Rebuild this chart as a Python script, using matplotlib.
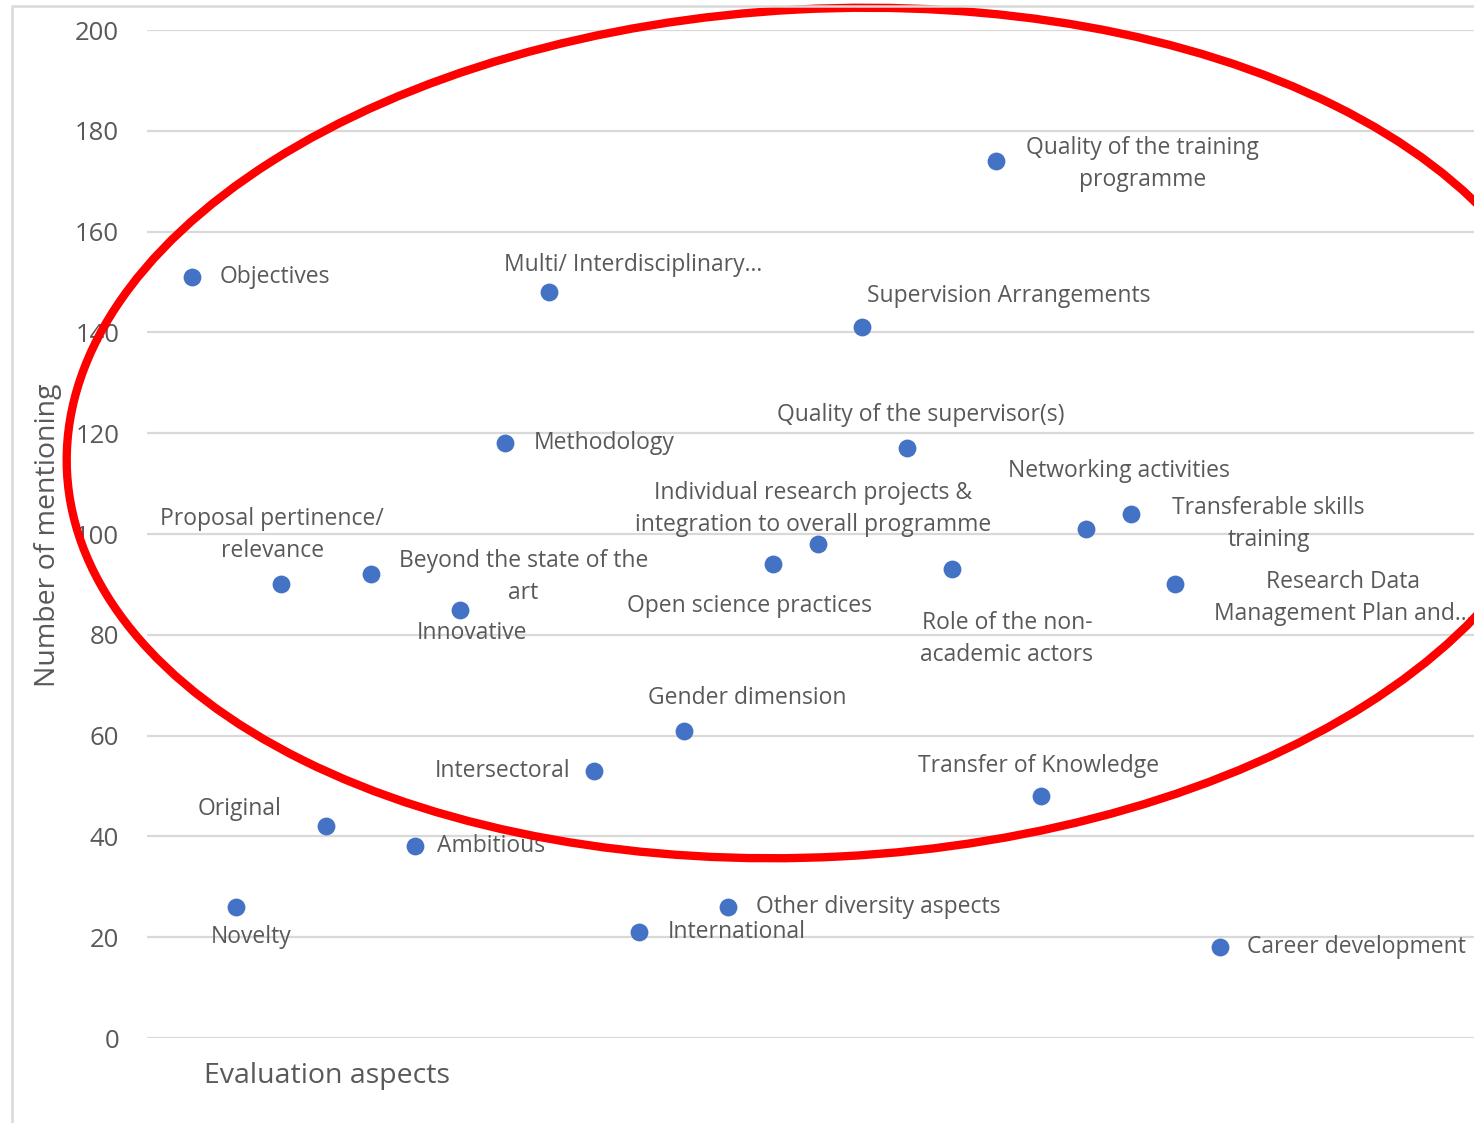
import matplotlib.pyplot as plt
from matplotlib.patches import Ellipse

plt.rcParams['font.family'] = ['Open Sans', 'DejaVu Sans']

aspects = ['Objectives', 'Novelty', 'Proposal pertinence/\nrelevance', 'Original',
           'Beyond the state of the\nart', 'Ambitious', 'Innovative', 'Methodology',
           'Multi/ Interdisciplinary...', 'Intersectoral', 'International',
           'Gender dimension', 'Other diversity aspects', 'Open science practices',
           'Individual research projects &\nintegration to overall programme',
           'Supervision Arrangements', 'Quality of the supervisor(s)',
           'Role of the non-\nacademic actors', 'Quality of the training\nprogramme',
           'Transfer of Knowledge', 'Networking activities',
           'Transferable skills\ntraining', 'Research Data\nManagement Plan and...',
           'Career development']
positions = list(range(1, len(aspects) + 1))
mentions = [151, 26, 90, 42, 92, 38, 85, 118, 148, 53, 21, 61, 26, 94, 98,
            141, 117, 93, 174, 48, 101, 104, 90, 18]

# label placement: (dx, dy) in pixels from the marker, horizontal alignment
label_pos = [(28, 0, 'left'), (15, -30, 'center'), (-9, 49, 'center'), (-86, 17, 'center'),
             (153, -3, 'center'), (22, 0, 'left'), (12, -23, 'center'), (29, 0, 'left'),
             (84, 27, 'center'), (-92, 0, 'center'), (29, 0, 'left'), (64, 33, 'center'),
             (28, 0, 'left'), (-23, -42, 'center'), (-5, 35, 'center'), (146, 31, 'center'),
             (14, 33, 'center'), (55, -70, 'center'), (146, -3, 'center'), (-3, 30, 'center'),
             (33, 58, 'center'), (138, -10, 'center'), (168, -14, 'center'), (27, 0, 'left')]

txt = '#595959'
grid = '#d9d9d9'

fig = plt.figure(figsize=(14.74, 11.23), dpi=100)
ax = fig.add_axes([147 / 1474, 1 - 1038 / 1123, 1 - 147 / 1474, (1038 - 30) / 1123])

ax.scatter(positions, mentions, s=165, color='#4472C4', zorder=3, linewidths=0)
for x, y, name, (dx, dy, ha) in zip(positions, mentions, aspects, label_pos):
    ax.annotate(name, (x, y), xytext=(dx, dy), textcoords='offset pixels',
                ha=ha, va='center', fontsize=16.5, color=txt, linespacing=1.45,
                multialignment='center', annotation_clip=False)

ax.set_xlim(0, 29.68)
ax.set_ylim(0, 200)
ax.set_yticks(range(0, 201, 20))
ax.set_xticks([])
ax.yaxis.grid(True, color=grid, linewidth=1.6)
ax.set_axisbelow(True)
for s in ax.spines.values():
    s.set_visible(False)
ax.tick_params(axis='y', length=0, pad=20, labelsize=18.5, labelcolor=txt)

fig.text(48 / 1474, 1 - 535 / 1123, 'Number of mentioning', rotation=90,
         ha='center', va='center', fontsize=20.5, color=txt)
fig.text(327 / 1474, 1 - 1076 / 1123, 'Evaluation aspects',
         ha='center', va='center', fontsize=20.5, color=txt)

# overlay in figure pixels: chart frame and the red ring
over = fig.add_axes([0, 0, 1, 1], facecolor='none')
over.set_xlim(0, 1474)
over.set_ylim(0, 1123)
over.axis('off')
over.plot([12, 12, 1480], [-5, 1117, 1117], color=grid, linewidth=1.8)
over.add_patch(Ellipse((819, 1123 - 433), 1506, 848, angle=3, fill=False,
                       edgecolor='#ff0000', linewidth=6))

fig.savefig('out.png', dpi=100)
